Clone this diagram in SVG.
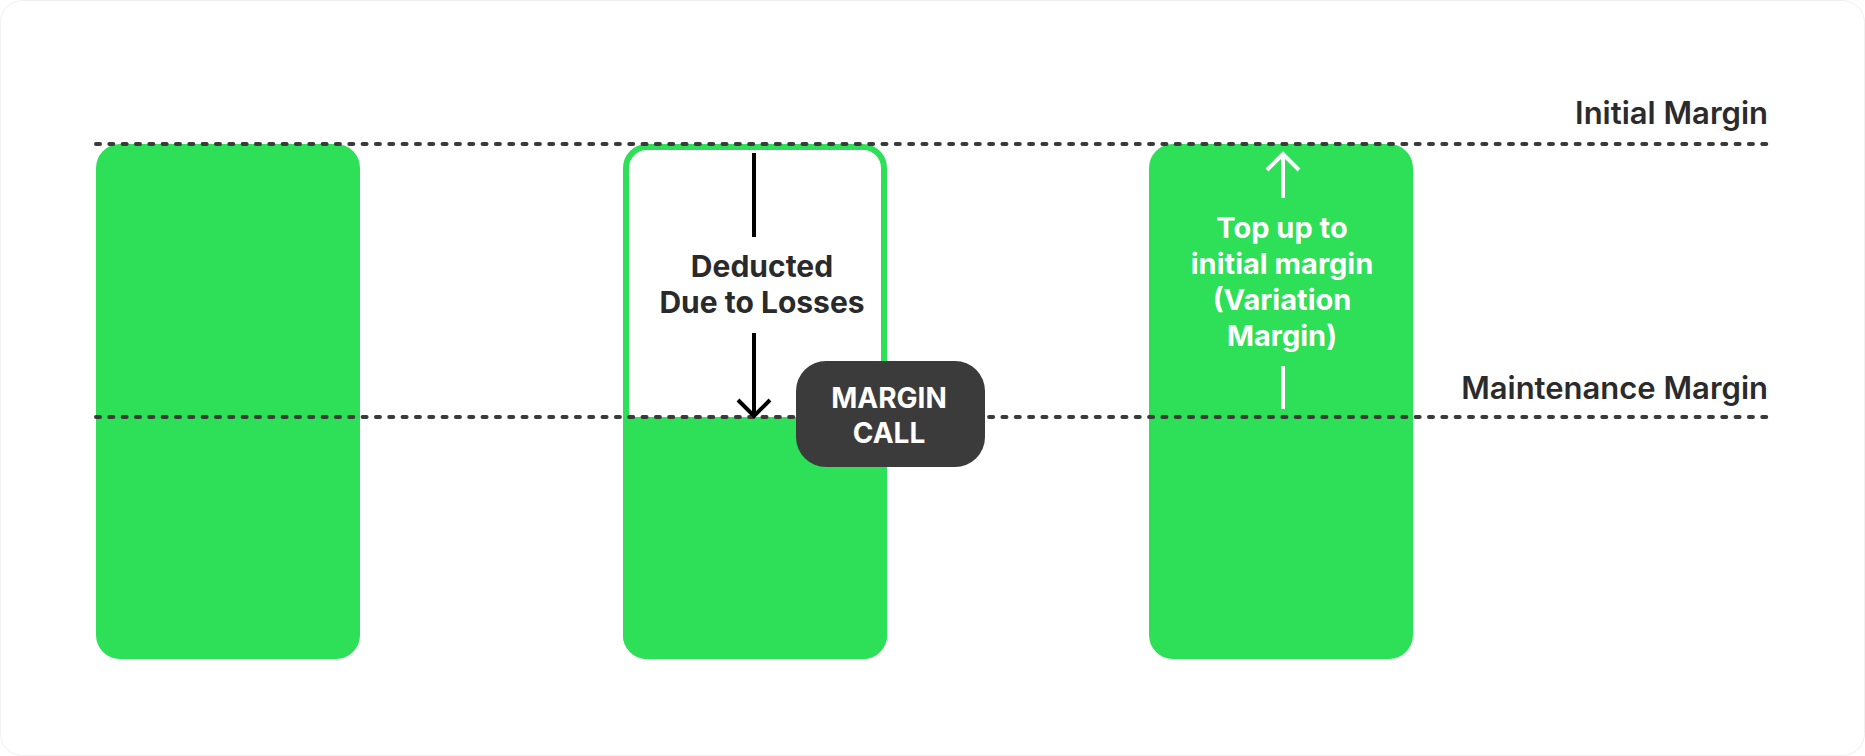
<svg xmlns="http://www.w3.org/2000/svg" width="1865" height="756" viewBox="0 0 1865 756">
  <style>
    .bar { fill: #2edf58; }
    .guide { stroke: #3a3a3a; stroke-width: 4; stroke-linecap: round; stroke-dasharray: 4 9.33; fill: none; }
    .lbl { font-family: Inter, "Liberation Sans", sans-serif; font-weight: 600; font-size: 31px; fill: #2b2b2b; }
    .txt { font-family: Inter, "Liberation Sans", sans-serif; font-weight: 700; font-size: 29px; text-anchor: middle; }
    .arrowK { stroke: #000; stroke-width: 4; fill: none; stroke-linecap: butt; }
    .arrowW { stroke: #fff; stroke-width: 4; fill: none; stroke-linecap: butt; }
  </style>
  <rect x="0.5" y="0.5" width="1864" height="755" rx="22" fill="#fff" stroke="#f0f0f0" stroke-width="1"/>

  <g id="bar1">
    <rect class="bar" x="96" y="144" width="264" height="515" rx="24"/>
  </g>

  <g id="bar2">
    <rect x="626" y="147" width="258" height="509" rx="21" fill="#fff" stroke="#2edf58" stroke-width="6"/>
    <path class="bar" d="M623 417 H887 V635 A24 24 0 0 1 863 659 H647 A24 24 0 0 1 623 635 Z"/>
    <text class="txt" fill="#2a2a2a" x="762" y="277" style="font-size:30px">Deducted</text>
    <text class="txt" fill="#2a2a2a" x="762" y="313" style="font-size:30px">Due to Losses</text>
  </g>

  <g id="bar3">
    <rect class="bar" x="1149" y="144" width="264" height="515" rx="24"/>
    <text class="txt" fill="#fff" x="1282" y="238">Top up to</text>
    <text class="txt" fill="#fff" x="1282" y="274">initial margin</text>
    <text class="txt" fill="#fff" x="1282" y="310">(Variation</text>
    <text class="txt" fill="#fff" x="1282" y="346">Margin)</text>
  </g>

  <g id="connectors">
    <line class="guide" x1="96" y1="144" x2="1768" y2="144"/>
    <line class="guide" x1="96" y1="417" x2="1768" y2="417"/>
    <line class="arrowK" x1="754" y1="153" x2="754" y2="237"/>
    <line class="arrowK" x1="754" y1="333" x2="754" y2="414"/>
    <polyline class="arrowK" points="738,400 754,416 770,400"/>
    <line class="arrowW" x1="1283" y1="156" x2="1283" y2="198"/>
    <polyline class="arrowW" points="1267,170 1283,154 1299,170"/>
    <line class="arrowW" x1="1283" y1="366" x2="1283" y2="409"/>
  </g>

  <g id="label-initial">
    <text class="lbl" x="1768" y="124" text-anchor="end">Initial Margin</text>
  </g>
  <g id="label-maintenance">
    <text class="lbl" x="1768" y="399" text-anchor="end">Maintenance Margin</text>
  </g>

  <g id="margin-call">
    <rect x="796" y="361" width="189" height="106" rx="30" fill="#3b3b3b"/>
    <text class="txt" fill="#fff" x="889" y="408" style="font-size:28px">MARGIN</text>
    <text class="txt" fill="#fff" x="889" y="443" style="font-size:28px">CALL</text>
  </g>
</svg>
